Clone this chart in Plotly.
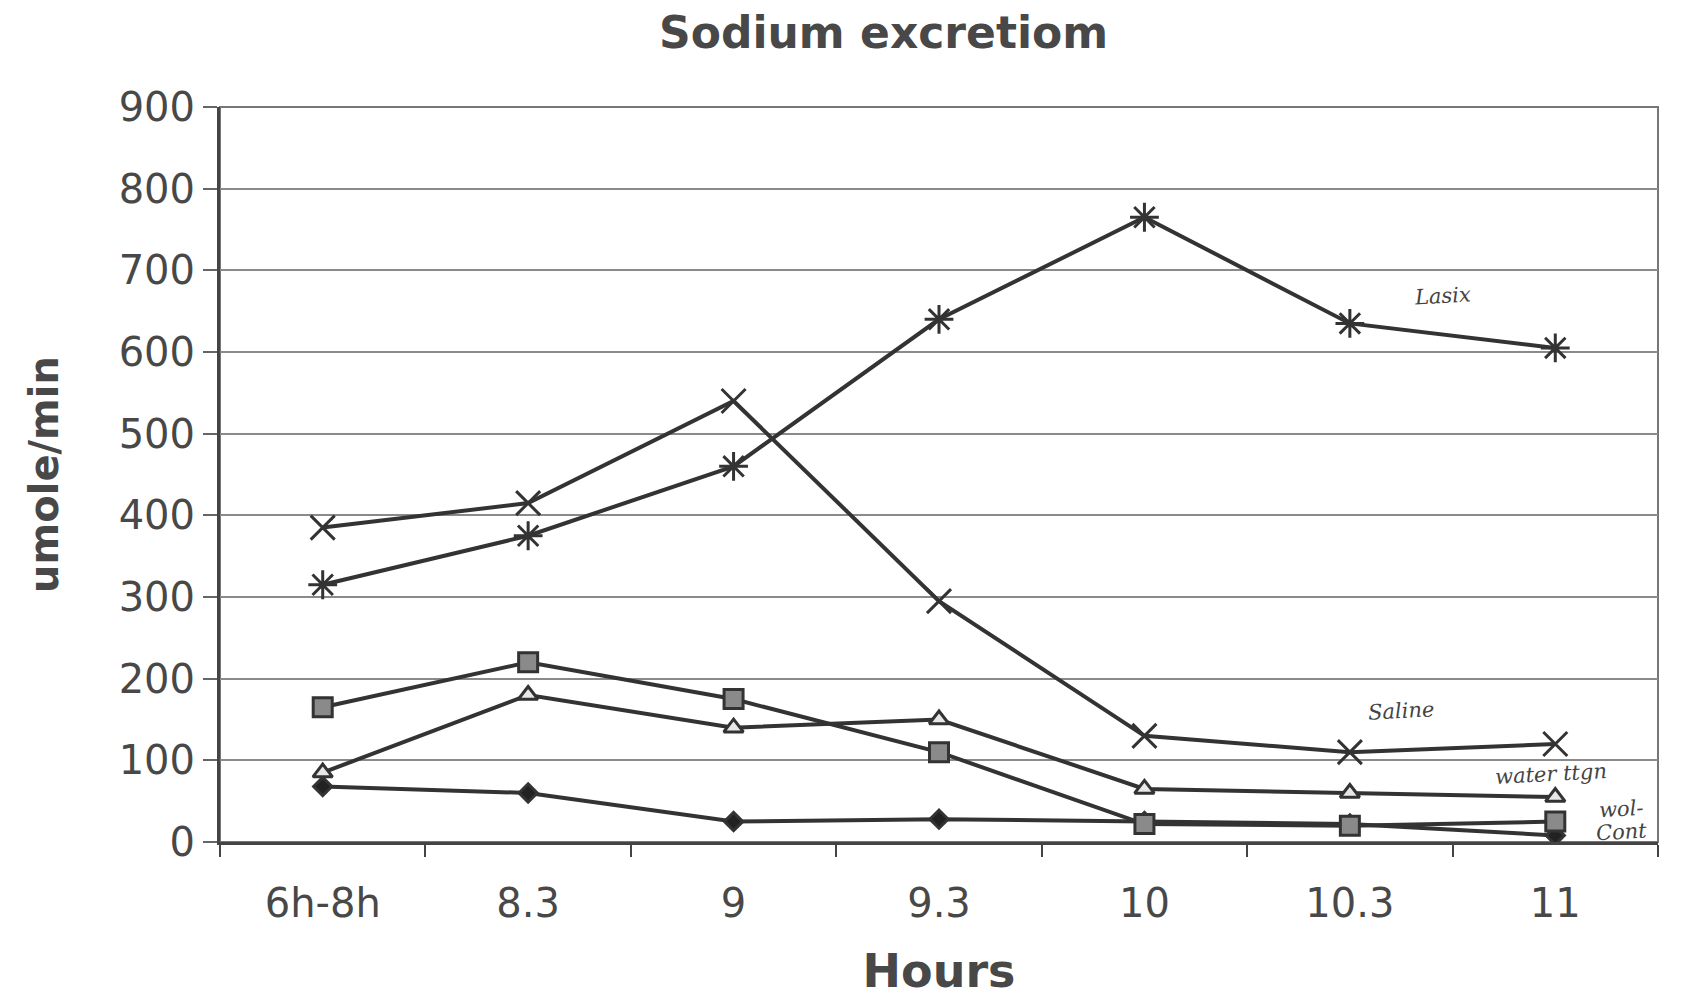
import plotly.graph_objects as go

hours = ["6h-8h", "8.3", "9", "9.3", "10", "10.3", "11"]
lasix = [315, 375, 460, 640, 765, 635, 605]
saline = [385, 415, 540, 295, 130, 110, 120]
water = [85, 180, 140, 150, 65, 60, 55]
vol = [165, 220, 175, 110, 22, 20, 25]
cont = [68, 60, 25, 28, 25, 22, 8]
y_ticks = [0, 100, 200, 300, 400, 500, 600, 700, 800, 900]

LINE = "#333333"
TXT = "#484848"
fig = go.Figure()

def add(name, y, symbol, fill, size):
    fig.add_trace(go.Scatter(
        x=hours, y=y, name=name, mode="lines+markers",
        line=dict(color=LINE, width=4),
        marker=dict(symbol=symbol, size=size, color=fill,
                    line=dict(color=LINE, width=3)),
        showlegend=False))

add("cont", cont, "diamond", "#222222", 14)
add("vol", vol, "square", "#8a8a8a", 19)
add("water", water, "triangle-up", "#e8e8e8", 17)
add("Saline", saline, "x-thin-open", LINE, 24)
add("Lasix", lasix, "asterisk-open", LINE, 24)

hand = dict(family="DejaVu Serif", size=21, color="#444444")
notes = [(5.45, 668, "<i>Lasix</i>"), (5.25, 160, "<i>Saline</i>"),
         (5.98, 83, "<i>water ttgn</i>"), (6.32, 40, "<i>wol-</i>"), (6.32, 12, "<i>Cont</i>")]
for xi, yi, t in notes:
    fig.add_annotation(x=xi, y=yi, xref="x", yref="y", text=t, showarrow=False,
                       font=hand, textangle=-3)

fig.update_layout(
    width=1683, height=1000,
    paper_bgcolor="white", plot_bgcolor="white",
    margin=dict(l=220, r=25, t=107, b=155),
    title=dict(text="<b>Sodium excretiom</b>", x=0.525, xanchor="center",
               y=0.983, yanchor="top",
               font=dict(family="DejaVu Sans", size=44, color=TXT)),
    font=dict(family="DejaVu Sans", color=TXT),
)
fig.update_xaxes(
    type="category", range=[-0.5, 6.5], tickson="boundaries",
    ticks="outside", ticklen=12, tickcolor="#444444", tickwidth=2,
    ticklabelstandoff=24,
    showgrid=False, showline=True, linecolor="#444444", linewidth=3, mirror=False,
    tickfont=dict(size=40, color=TXT),
    title=dict(text="<b>Hours</b>", font=dict(size=46, color=TXT), standoff=30),
)
fig.update_yaxes(
    range=[0, 900], tickvals=y_ticks, ticks="outside", ticklen=14,
    tickcolor="#666666", tickwidth=1.5,
    showgrid=True, gridcolor="#8a8a8a", gridwidth=1.5,
    showline=True, linecolor="#444444", linewidth=3,
    zeroline=False,
    tickfont=dict(size=40, color=TXT),
    title=dict(text="<b>umole/min</b>", font=dict(size=40, color=TXT), standoff=48),
)
fig.add_shape(type="rect", xref="paper", yref="paper", x0=0, y0=0, x1=1, y1=1,
              line=dict(color="#777777", width=2), layer="below")

fig.write_html("out.html")
